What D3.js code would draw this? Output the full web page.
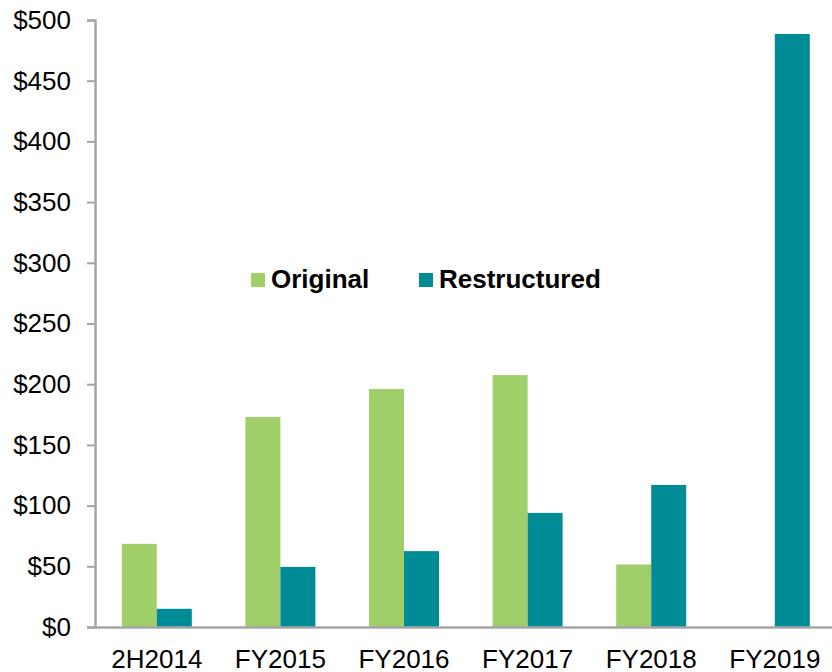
<!DOCTYPE html>
<html>
<head>
<meta charset="utf-8">
<script src="https://cdn.jsdelivr.net/npm/d3@7"></script>
<style>
  body { margin: 0; background: #fff; }
  text { font-family: "Liberation Sans", Arial, sans-serif; }
</style>
</head>
<body>
<div id="chart"></div>
<script>
// data
var categories = ['2H2014', 'FY2015', 'FY2016', 'FY2017', 'FY2018', 'FY2019'];
var original = [68.5, 173, 196, 207.5, 51.5, null];
var restructured = [15, 49.5, 62.5, 94, 117, 488.5];
var series_names = ['Original', 'Restructured'];
var y_ticks = [0, 50, 100, 150, 200, 250, 300, 350, 400, 450, 500];

var colors = ['#a0cf6a', '#008c96'];

var chart_width = 832;
var chart_height = 672;
var margin = {left: 95, top: 20, bottom: 45};

var svg = d3.select('#chart')
            .append('svg')
            .attr('width', chart_width)
            .attr('height', chart_height);

var y = d3.scaleLinear()
          .domain([0, 500])
          .range([chart_height - margin.bottom, margin.top]);

var x = d3.scaleBand()
          .domain(categories)
          .range([margin.left, margin.left + 6 * 123.6])
          .paddingInner(0.4337)
          .paddingOuter(0.2168);

var x_inner = d3.scaleBand()
                .domain(series_names)
                .range([0, x.bandwidth()]);

// y axis
var y_axis = d3.axisLeft(y)
               .tickValues(y_ticks)
               .tickSize(8)
               .tickFormat(function(d){ return '$' + d; });

var gy = svg.append('g')
            .attr('transform', 'translate(' + margin.left + ',0)')
            .call(y_axis);
gy.select('.domain').attr('stroke', '#a6a6a6').attr('stroke-width', 2.5);
gy.selectAll('.tick line').attr('stroke', '#a6a6a6').attr('stroke-width', 2);
gy.selectAll('.tick text')
  .attr('x', -24)
  .attr('font-size', 26)
  .attr('fill', '#000')
  .style('font-family', '"Liberation Sans", Arial, sans-serif');

// bars
var rows = categories.map(function(c, i){
    return {cat: c, vals: [original[i], restructured[i]]};
});

var groups = svg.selectAll('g.grp')
    .data(rows)
    .enter()
    .append('g')
    .attr('class', 'grp')
    .attr('transform', function(d){ return 'translate(' + x(d.cat) + ',0)'; });

groups.selectAll('rect')
    .data(function(d){
        return d.vals.map(function(v, j){ return {name: series_names[j], v: v, j: j}; })
                     .filter(function(e){ return e.v != null; });
    })
    .enter()
    .append('rect')
    .attr('x', function(d){ return x_inner(d.name); })
    .attr('width', x_inner.bandwidth())
    .attr('y', function(d){ return y(d.v); })
    .attr('height', function(d){ return y(0) - y(d.v); })
    .attr('fill', function(d){ return colors[d.j]; });

// x axis
var x_axis = d3.axisBottom(x).tickSize(0).tickPadding(23);
var gx = svg.append('g')
            .attr('transform', 'translate(0,' + y(0) + ')')
            .call(x_axis);
gx.select('.domain').attr('stroke', '#a6a6a6').attr('stroke-width', 2.5);
gx.selectAll('.tick text')
  .attr('font-size', 26)
  .attr('fill', '#000')
  .style('font-family', '"Liberation Sans", Arial, sans-serif');

// legend
var legend_x = [251, 419];
var legend = svg.selectAll('g.legend')
    .data(series_names)
    .enter()
    .append('g')
    .attr('class', 'legend')
    .attr('transform', function(d, i){ return 'translate(' + legend_x[i] + ',273)'; });

legend.append('rect')
    .attr('width', 14)
    .attr('height', 14)
    .attr('fill', function(d, i){ return colors[i]; });

legend.append('text')
    .attr('x', 20)
    .attr('y', 15)
    .attr('font-size', 26)
    .attr('font-weight', 'bold')
    .attr('fill', '#000')
    .text(function(d){ return d; });
</script>
</body>
</html>
